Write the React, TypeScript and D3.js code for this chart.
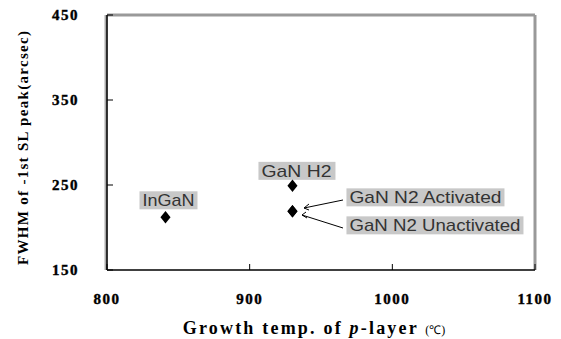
import * as d3 from 'd3';
import React from 'react';

const names = ['InGaN', 'GaN H2', 'GaN N2 Activated', 'GaN N2 Unactivated'];
const temps = [841, 930, 930, 930];
const fwhm = [212, 249, 219, 219];
const xTicks = [800, 900, 1000, 1100];
const yTicks = [150, 250, 350, 450];

const W = 561;
const H = 339;

export default function App() {
  const x = d3.scaleLinear().domain([800, 1100]).range([107, 535]);
  const y = d3.scaleLinear().domain([150, 450]).range([270, 15]);
  const diamond = d3.symbol().type(d3.symbolDiamond).size(45)();

  // label boxes placed relative to their points
  const labels = [
    { i: 0, dx: -26, dy: -26, w: 58, tw: 52 },
    { i: 1, dx: -34, dy: -24, w: 77, tw: 70 },
    { i: 2, dx: 54, dy: -23, w: 158, tw: 152 },
    { i: 3, dx: 54, dy: 5, w: 177, tw: 171 },
  ];

  return (
    <div style={{ position: 'absolute', left: 0, top: 0 }}>
      <svg width={W} height={H} style={{ display: 'block', background: '#fff' }}>
        {/* frame */}
        <line x1={x(800)} x2={x(1100)} y1={y(450)} y2={y(450)} stroke="#999" strokeWidth={3} />
        <line x1={x(1100)} x2={x(1100)} y1={y(450)} y2={y(150)} stroke="#999" strokeWidth={3} />
        <line x1={x(800) - 1} x2={x(800) - 1} y1={y(450)} y2={y(150)} stroke="#aaa" strokeWidth={3} />
        <line x1={x(800)} x2={x(800)} y1={y(450)} y2={y(150)} stroke="#000" strokeWidth={1.5} />
        <line x1={x(800)} x2={x(1100)} y1={y(150)} y2={y(150)} stroke="#000" strokeWidth={1.5} />

        {yTicks.map(t => (
          <g key={'y' + t}>
            <line x1={x(800)} x2={x(800) + 6} y1={y(t)} y2={y(t)} stroke="#000" />
            <text x={79} y={y(t) + 5} textAnchor="end" fontFamily="Liberation Serif" fontWeight="bold" fontSize={15} letterSpacing={1.5} stroke="#000" strokeWidth={0.4}>
              {t}
            </text>
          </g>
        ))}
        {xTicks.map(t => (
          <g key={'x' + t}>
            <line x1={x(t)} x2={x(t)} y1={y(150)} y2={y(150) - 6} stroke="#000" />
            <text x={x(t)} y={304} textAnchor="middle" fontFamily="Liberation Serif" fontWeight="bold" fontSize={15} letterSpacing={1.5} stroke="#000" strokeWidth={0.4}>
              {t}
            </text>
          </g>
        ))}

        <text x={314} y={334} textAnchor="middle" fontFamily="Liberation Serif" fontWeight="bold" fontSize={18} letterSpacing={2.2}>
          Growth temp. of <tspan fontStyle="italic">p</tspan>-layer <tspan fontSize={12} fontWeight="normal" letterSpacing={0}>(℃)</tspan>
        </text>
        <text
          transform="translate(28,148) rotate(-90)"
          textAnchor="middle"
          fontFamily="Liberation Serif"
          fontWeight="bold"
          fontSize={15}
          textLength={234}
        >
          FWHM of -1st SL peak(arcsec)
        </text>

        {/* arrows */}
        <g stroke="#000" strokeWidth={1} fill="none">
          <line x1={343} y1={200} x2={304} y2={208} />
          <path d="M309,204 L304,208 L309,210" />
          <line x1={343} y1={228} x2={302} y2={215} />
          <path d="M306,212 L302,215 L307,218" />
        </g>

        {labels.map(l => {
          const px = x(temps[l.i]);
          const py = y(fwhm[l.i]);
          return (
            <g key={names[l.i]}>
              <rect x={px + l.dx} y={py + l.dy} width={l.w} height={18} fill="#c8c8c8" />
              <text
                x={px + l.dx + 3}
                y={py + l.dy + 15}
                fontFamily="Liberation Sans"
                fontSize={17}
                fill="#333"
                textLength={l.tw}
                lengthAdjust="spacingAndGlyphs"
              >
                {names[l.i]}
              </text>
            </g>
          );
        })}

        {temps.map((t, i) => (
          <path key={i} d={diamond!} transform={`translate(${x(t)},${y(fwhm[i])}) scale(1.4,1)`} fill="#000" />
        ))}
      </svg>
    </div>
  );
}
